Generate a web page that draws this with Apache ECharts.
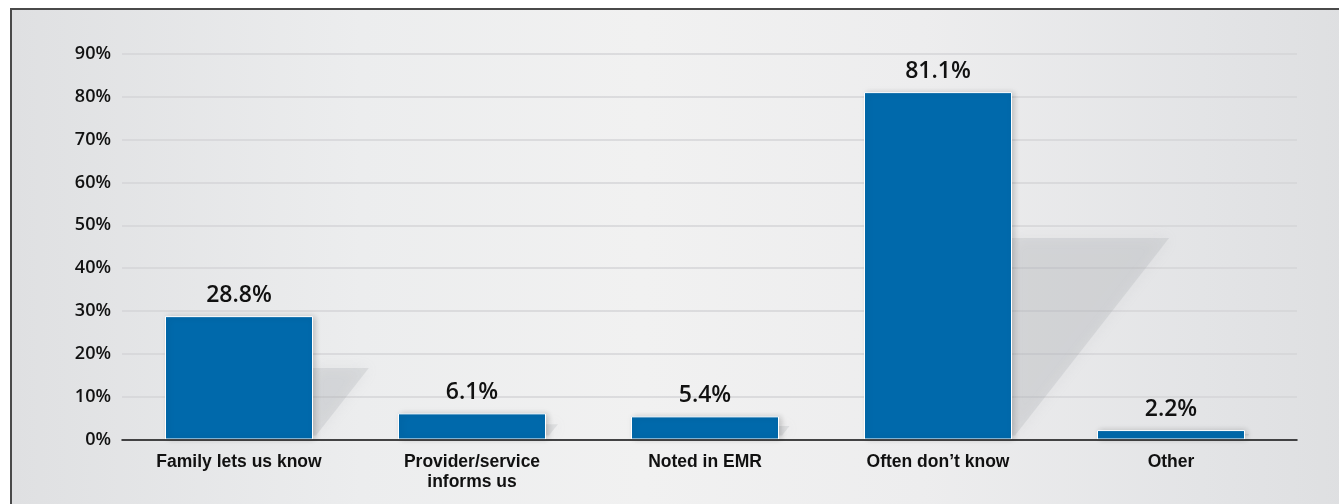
<!DOCTYPE html>
<html>
<head>
<meta charset="utf-8">
<script src="https://cdn.jsdelivr.net/npm/echarts@6/dist/echarts.min.js"></script>
<style>
  html, body { margin: 0; padding: 0; background: #ffffff; }
  #frame {
    position: absolute; left: 10px; top: 8px; width: 1400px; height: 600px;
    border-left: 2px solid #4a4a4a; border-top: 2px solid #4a4a4a;
    background: linear-gradient(to right, #dfe0e2 0%, #ecedee 25%, #f1f1f1 45%, #ededee 65%, #e3e4e6 85%, #dcdddf 100%);
  }
  #chart { position: absolute; left: 0; top: 0; width: 1339px; height: 504px; }
</style>
</head>
<body>
<div id="frame"></div>
<div id="chart"></div>
<script>
const categories = ['Family lets us know', 'Provider/service\ninforms us', 'Noted in EMR', 'Often don\u2019t know', 'Other'];
const values = [28.8, 6.1, 5.4, 81.1, 2.2];
const yTicks = [0, 10, 20, 30, 40, 50, 60, 70, 80, 90];

const chart = echarts.init(document.getElementById('chart'), null, { renderer: 'canvas' });
const BAR_W = 148;
const shadowData = values.map((v, i) => [i, v]);

chart.setOption({
  backgroundColor: 'transparent',
  animation: false,
  grid: [
    { left: 122, right: 42, top: 54, bottom: 64.5 },
    { left: 122.5, right: 51.5, top: 54, bottom: 64.5 }
  ],
  xAxis: [
    {
      type: 'category', gridIndex: 0, data: categories,
      axisLine: { show: true, lineStyle: { color: '#111', width: 1.5 } },
      axisTick: { show: false }, axisLabel: { show: false }, splitLine: { show: false }, z: 5
    },
    {
      type: 'category', gridIndex: 1, data: categories,
      axisLine: { show: false }, axisTick: { show: false },
      axisLabel: {
        margin: 13, fontFamily: 'Liberation Sans, Arial, sans-serif', fontWeight: 'bold',
        fontSize: 17.5, lineHeight: 20, color: '#111', interval: 0
      }
    }
  ],
  yAxis: [
    {
      type: 'value', gridIndex: 0, min: 0, max: 90, interval: 10,
      axisLine: { show: false }, axisTick: { show: false },
      axisLabel: {
        margin: 11, fontFamily: 'Open Sans, sans-serif', fontWeight: 600, fontSize: 18, color: '#111',
        formatter: v => (yTicks.indexOf(v) >= 0 ? v + '%' : '')
      },
      splitLine: { show: true, lineStyle: { color: '#d4d5d7', width: 1.5 } }
    },
    {
      type: 'value', gridIndex: 1, min: 0, max: 90, interval: 10,
      axisLine: { show: false }, axisTick: { show: false }, axisLabel: { show: false },
      splitLine: { show: false }
    }
  ],
  series: [
    {
      type: 'custom', xAxisIndex: 1, yAxisIndex: 1, data: shadowData, z: 1, silent: true,
      encode: { x: 0, y: 1 },
      renderItem: function (params, api) {
        const i = api.value(0);
        const v = api.value(1);
        const base = api.coord([i, 0]);
        const top = api.coord([i, v * 0.58]);
        const xr = base[0] + BAR_W / 2;
        const h = base[1] - top[1];
        const w = h * 0.78;
        return {
          type: 'polygon',
          shape: { points: [[xr, top[1]], [xr + w, top[1]], [xr + 3, base[1] - 4], [xr, base[1] - 4]] },
          style: { fill: 'rgba(165,167,171,0.24)', shadowBlur: 14, shadowColor: 'rgba(165,167,171,0.5)' }
        };
      }
    },
    {
      type: 'bar', xAxisIndex: 1, yAxisIndex: 1, data: values, barWidth: BAR_W, z: 3,
      itemStyle: {
        color: '#0069ab', borderColor: '#ffffff', borderWidth: 1,
        shadowBlur: 6, shadowColor: 'rgba(0,0,0,0.18)', shadowOffsetX: 2
      },
      label: {
        show: true, position: 'top', distance: 9,
        fontFamily: 'Open Sans, sans-serif', fontWeight: 600, fontSize: 23, color: '#111',
        formatter: p => p.value.toFixed(1) + '%'
      }
    }
  ]
});
</script>
</body>
</html>
